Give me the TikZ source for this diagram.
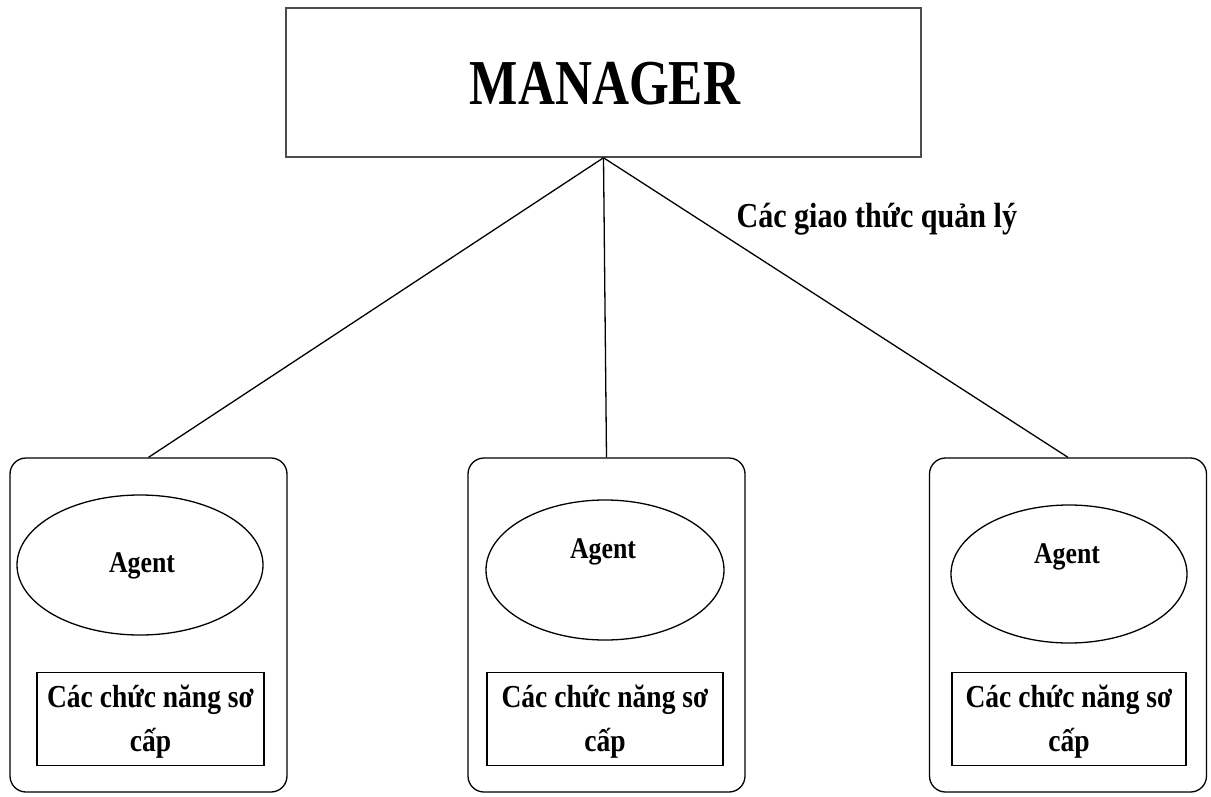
\documentclass[tikz,border=0pt]{standalone}
\usepackage{fontspec}
\setmainfont{Liberation Serif}
\newfontfamily\condA[FakeStretch=0.80]{Liberation Serif}
\newfontfamily\condB[FakeStretch=0.86]{Liberation Serif}
\usetikzlibrary{shapes.geometric}
\begin{document}
\begin{tikzpicture}[x=1pt,y=-1pt,
  box/.style={draw=black!70,line width=1.5pt,minimum width=635pt,minimum height=149pt,inner sep=0pt},
  agentbox/.style={draw,line width=1.3pt,rounded corners=16pt,minimum width=277pt,minimum height=334pt,inner sep=0pt},
  agentell/.style={draw,ellipse,line width=1.3pt,minimum width=240pt,minimum height=140pt,inner sep=0pt},
  funcbox/.style={draw,line width=1.3pt,minimum width=230pt,minimum height=93pt,inner sep=0pt},
  agenttext/.style={font=\condB\bfseries\fontsize{30}{34}\selectfont},
  functext/.style={font=\condB\bfseries\fontsize{32}{44}\selectfont,align=center},
  link/.style={line width=1.3pt}]
\useasboundingbox (0,0) rectangle (1211,796);
\node[box] (manager) at (603.5,82.5) {};
\node[font=\condA\bfseries\fontsize{64}{70}\selectfont] (mgrtext) at (605,84) {MANAGER};
\node[font=\condB\bfseries\fontsize{35}{40}\selectfont,anchor=west] (proto) at (733,219) {Các giao thức quản lý};

\node[agentbox] (b1) at (148.5,625) {};
\node[agentbox] (b2) at (606.5,625) {};
\node[agentbox] (b3) at (1068,625) {};

\node[agentell,minimum width=246pt] (e1) at (140,565) {};
\node[agentell,minimum width=238pt] (e2) at (605,570) {};
\node[agentell,minimum width=236pt,minimum height=138pt] (e3) at (1069,574) {};
\node[agenttext] (a1) at (142,566) {Agent};
\node[agenttext] (a2) at (603,552) {Agent};
\node[agenttext] (a3) at (1067,557) {Agent};

\node[funcbox,minimum width=227pt] (f1) at (150.5,719) {};
\node[funcbox,minimum width=236pt] (f2) at (605,719) {};
\node[funcbox,minimum width=234pt] (f3) at (1069,719) {};
\node[functext] (t1) at (150.5,722) {Các chức năng sơ\\cấp};
\node[functext] (t2) at (605,722) {Các chức năng sơ\\cấp};
\node[functext] (t3) at (1069,722) {Các chức năng sơ\\cấp};

\draw[link] (manager.south) -- (b1.north);
\draw[link] (manager.south) -- (b2.north);
\draw[link] (manager.south) -- (b3.north);
\end{tikzpicture}
\end{document}
